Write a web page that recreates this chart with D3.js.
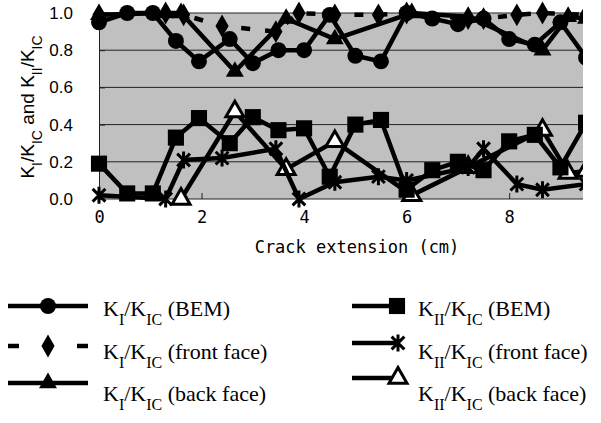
<!DOCTYPE html>
<html>
<head>
<meta charset="utf-8">
<script src="https://cdn.jsdelivr.net/npm/d3@7"></script>
<style>
body { margin: 0; background: #fff; }
</style>
</head>
<body>
<svg id="mySVG" width="601" height="423"></svg>
<script>
// ---values---
var bemX = [0, 0.55, 1.05, 1.5, 1.95, 2.55, 3.0, 3.5, 4.0, 4.5, 5.0, 5.5, 6.0, 6.5, 7.0, 7.5, 8.0, 8.5, 9.0, 9.5]
var kiBem = [0.95, 1.0, 1.0, 0.85, 0.74, 0.86, 0.73, 0.80, 0.80, 0.99, 0.77, 0.74, 1.0, 0.97, 0.94, 0.97, 0.86, 0.83, 0.95, 0.76]
var kiiBem = [0.19, 0.03, 0.03, 0.33, 0.435, 0.30, 0.44, 0.37, 0.38, 0.12, 0.40, 0.425, 0.05, 0.155, 0.20, 0.155, 0.31, 0.345, 0.17, 0.41]

var frontX = [0, 1.3, 1.65, 2.4, 3.45, 3.9, 4.6, 5.45, 6.0, 7.2, 7.5, 8.15, 8.65, 9.5]
var kiFront = [0.99, 1.0, 0.99, 0.93, 0.9, 1.0, 0.99, 0.99, 1.0, 0.97, 0.97, 0.99, 1.0, 0.99]
var kiiFront = [0.02, 0.0, 0.21, 0.22, 0.27, 0.0, 0.09, 0.12, 0.10, 0.17, 0.27, 0.08, 0.05, 0.08]

var kiBackX = [0, 1.3, 1.6, 2.65, 3.65, 4.6, 6.1, 7.2, 8.65, 9.15, 9.5]
var kiBack = [0.99, 1.0, 1.0, 0.685, 0.97, 0.86, 1.0, 0.98, 0.80, 0.98, 0.97]
var kiiBackX = [1.6, 2.65, 3.65, 4.6, 6.1, 7.2, 8.65, 9.15, 9.5]
var kiiBack = [0.0, 0.47, 0.16, 0.31, 0.02, 0.17, 0.37, 0.14, 0.15]

var yTicks = [0, 0.2, 0.4, 0.6, 0.8, 1.0]
var xTicks = [0, 2, 4, 6, 8]

var MySVG = d3.select("#mySVG")
var X = d3.scaleLinear().domain([0, 9.44]).range([99, 583])
var Y = d3.scaleLinear().domain([0, 1]).range([199, 13])

var defs = MySVG.append("defs")
defs.append("clipPath").attr("id", "plotClip")
  .append("rect").attr("x", 0).attr("y", 0).attr("width", 583).attr("height", 220)

// ---plot area---
MySVG.append("rect")
  .attr("x", X(0)).attr("y", Y(1))
  .attr("width", 583 - X(0)).attr("height", Y(0) - Y(1))
  .attr("fill", "#c0c0c0")

MySVG.append("g").selectAll("line").data(yTicks.slice(1)).join("line")
  .attr("x1", X(0)).attr("x2", 583)
  .attr("y1", d => Y(d)).attr("y2", d => Y(d))
  .attr("stroke", "#222").attr("stroke-width", 1)

// ---axes---
var yAxis = d3.axisLeft(Y).tickValues(yTicks).tickFormat(d3.format(".1f")).tickSize(-6).tickPadding(26)
var yG = MySVG.append("g").attr("transform", "translate(" + X(0) + ",0)").call(yAxis)
yG.select(".domain").attr("stroke", "#222")
yG.selectAll(".tick line").attr("stroke", "#222")
yG.selectAll("text").attr("font-family", "Liberation Sans, Arial, sans-serif").attr("font-size", 17).attr("fill", "#000")

var xAxis = d3.axisBottom(X).tickValues(xTicks).tickFormat(d3.format("d")).tickSize(-6).tickPadding(12)
var xG = MySVG.append("g").attr("transform", "translate(0," + Y(0) + ")").call(xAxis)
xG.select(".domain").attr("d", "M" + X(0) + ",0H583").attr("stroke", "#222")
xG.selectAll(".tick line").attr("stroke", "#222")
xG.selectAll("text").attr("font-family", "DejaVu Sans Mono, monospace").attr("font-size", 17).attr("fill", "#000")

MySVG.append("text")
  .attr("x", 357).attr("y", 253)
  .attr("text-anchor", "middle")
  .attr("font-family", "DejaVu Sans Mono, monospace").attr("font-size", 17)
  .text("Crack extension (cm)")

// ---text with subscripts---
function subText(sel, parts, size, subSize) {
  parts.forEach(function (p) {
    var t = sel.append("tspan").text(p[0])
    if (p[1]) t.attr("font-size", subSize).attr("baseline-shift", "sub")
    else t.attr("font-size", size)
  })
}
var yTitle = MySVG.append("text")
  .attr("transform", "translate(34,107) rotate(-90)")
  .attr("text-anchor", "middle")
  .attr("font-family", "Liberation Sans, Arial, sans-serif")
subText(yTitle, [["K"], ["I", 1], ["/K"], ["IC", 1], [" and K"], ["II", 1], ["/K"], ["IC", 1]], 19, 14)

// ---markers---
function starPath(r) {
  var a = r * 0.75
  return "M0," + (-r) + "V" + r + "M" + (-a) + "," + (-a) + "L" + a + "," + a + "M" + (-a) + "," + a + "L" + a + "," + (-a)
}
var circleSym = d3.symbol().type(d3.symbolCircle).size(200)
var squareSym = d3.symbol().type(d3.symbolSquare).size(260)
var diamondSym = d3.symbol().type(d3.symbolDiamond).size(150)
var triSym = d3.symbol().type(d3.symbolTriangle).size(140)

var series = [
  { xs: bemX, ys: kiBem, dash: null, mark: circleSym(), fill: "#000", stroke: "none" },
  { xs: bemX, ys: kiiBem, dash: null, mark: squareSym(), fill: "#000", stroke: "none" },
  { xs: frontX, ys: kiFront, dash: "9,15", mark: diamondSym(), fill: "#000", stroke: "none" },
  { xs: frontX, ys: kiiFront, dash: null, mark: starPath(8.5), fill: "none", stroke: "#000" },
  { xs: kiBackX, ys: kiBack, dash: null, mark: triSym(), fill: "#000", stroke: "none" },
  { xs: kiiBackX, ys: kiiBack, dash: null, mark: triSym(), fill: "#fff", stroke: "#000" }
]

var plotG = MySVG.append("g").attr("clip-path", "url(#plotClip)")
var line = d3.line().x(d => X(d[0])).y(d => Y(d[1]))

// back face drawn first, BEM on top
;[5, 4, 3, 2, 1, 0].forEach(function (k) {
  var s = series[k]
  var pts = s.xs.map((x, i) => [x, s.ys[i]])
  plotG.append("path")
    .attr("d", line(pts))
    .attr("fill", "none")
    .attr("stroke", "#000")
    .attr("stroke-width", 4.5)
    .attr("stroke-dasharray", s.dash)
  plotG.append("g").selectAll("path").data(pts).join("path")
    .attr("transform", d => "translate(" + X(d[0]) + "," + Y(d[1]) + ")")
    .attr("d", s.mark)
    .attr("fill", s.fill)
    .attr("stroke", s.stroke)
    .attr("stroke-width", s.stroke == "none" ? null : 3)
})

// ---legend---
var legend = [
  { x1: 8, x2: 88, mx: 48, ly: 306, ty: 316, tx: 103, s: 0, label: [["K"], ["I", 1], ["/K"], ["IC", 1], [" (BEM)"]] },
  { x1: 8, x2: 88, mx: 48, ly: 346, ty: 359, tx: 103, s: 2, label: [["K"], ["I", 1], ["/K"], ["IC", 1], [" (front face)"]] },
  { x1: 8, x2: 88, mx: 48, ly: 383, ty: 401, tx: 103, s: 4, label: [["K"], ["I", 1], ["/K"], ["IC", 1], [" (back face)"]] },
  { x1: 352, x2: 398, mx: 397, ly: 306, ty: 316, tx: 418, s: 1, label: [["K"], ["II", 1], ["/K"], ["IC", 1], [" (BEM)"]] },
  { x1: 352, x2: 398, mx: 398, ly: 343, ty: 359, tx: 418, s: 3, label: [["K"], ["II", 1], ["/K"], ["IC", 1], [" (front face)"]] },
  { x1: 352, x2: 398, mx: 398, ly: 378, ty: 401, tx: 418, s: 5, label: [["K"], ["II", 1], ["/K"], ["IC", 1], [" (back face)"]] }
]
var legG = MySVG.append("g")
legend.forEach(function (l) {
  var s = series[l.s]
  legG.append("line")
    .attr("x1", l.x1).attr("x2", l.x2).attr("y1", l.ly).attr("y2", l.ly)
    .attr("stroke", "#000").attr("stroke-width", 4.5)
    .attr("stroke-dasharray", s.dash ? "11,58,11" : null)
  legG.append("path")
    .attr("transform", "translate(" + l.mx + "," + l.ly + ")")
    .attr("d", s.mark)
    .attr("fill", s.fill)
    .attr("stroke", s.stroke)
    .attr("stroke-width", s.stroke == "none" ? null : 3)
  var t = legG.append("text")
    .attr("x", l.tx).attr("y", l.ty)
    .attr("font-family", "Liberation Serif, Times New Roman, serif")
  subText(t, l.label, 22, 16)
})
</script>
</body>
</html>
